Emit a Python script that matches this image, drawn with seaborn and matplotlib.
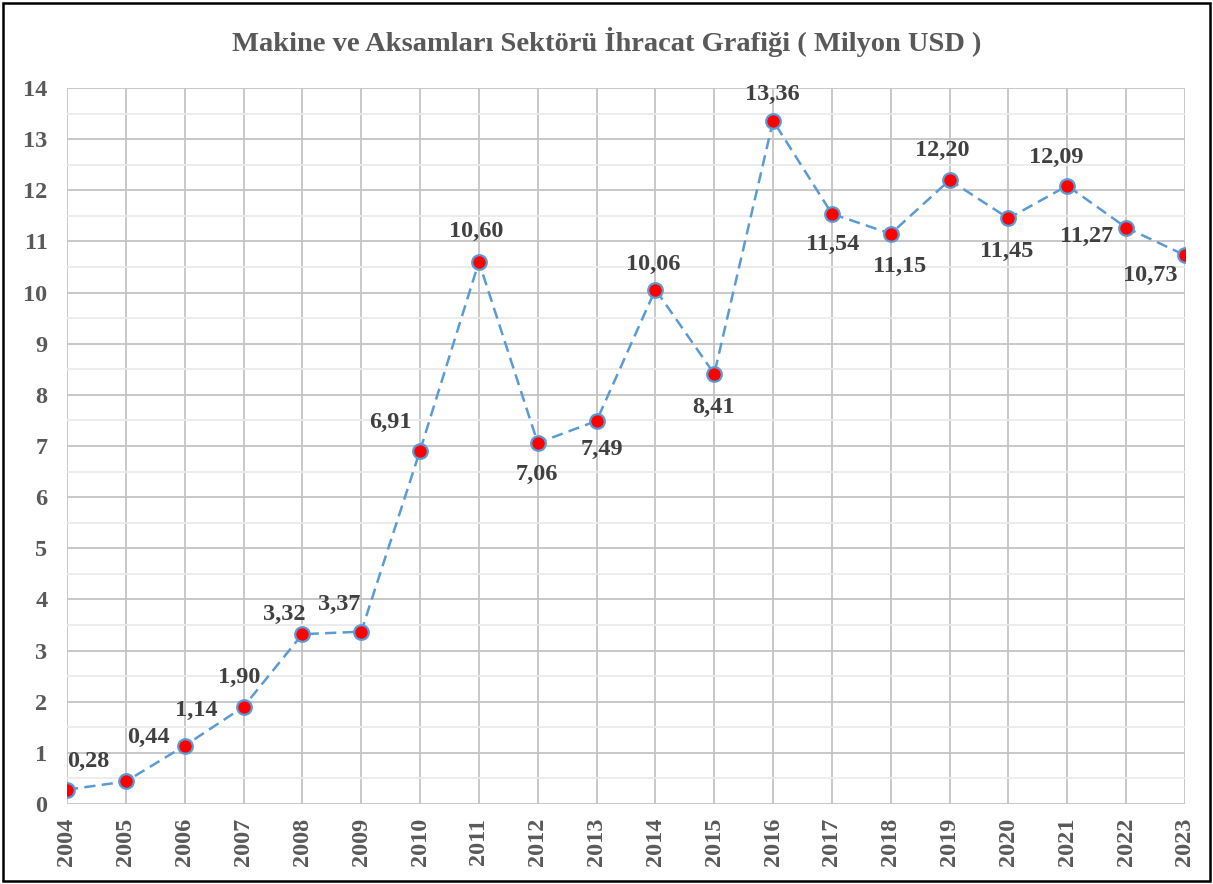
import matplotlib
matplotlib.use("Agg")
import matplotlib.pyplot as plt
import seaborn as sns
import pandas as pd
from matplotlib.patches import Rectangle
from matplotlib.ticker import MultipleLocator

years = list(range(2004, 2024))
values = [0.28, 0.44, 1.14, 1.90, 3.32, 3.37, 6.91, 10.60, 7.06, 7.49,
          10.06, 8.41, 13.36, 11.54, 11.15, 12.20, 11.45, 12.09, 11.27, 10.73]
title = "Makine ve Aksamları Sektörü İhracat Grafiği ( Milyon USD )"

# label offsets in pixels (dx, dy) relative to each point
label_offsets = [(21, 28), (23, 44), (12, 35), (-4, 29), (-18, 20), (-22, 27),
                 (-30, 28), (-3, 30), (-1, -32), (5, -29), (-2, 25), (-1, -34),
                 (-1, 26), (1, -31), (9, -33), (-7, 30), (-2, -33), (-11, 28),
                 (-40, -9), (-35, -20)]

sns.set_style("white")
plt.rcParams['font.family'] = ['Liberation Serif', 'DejaVu Serif']

df = pd.DataFrame({"Yıl": years, "Değer": values})

fig = plt.figure(figsize=(12.13, 8.84), dpi=100)
ax = fig.add_axes([67/1213, 1-804/884, (1185-67)/1213, (804-88)/884])

line_blue = "#5B9BD5"
sns.lineplot(data=df, x="Yıl", y="Değer", ax=ax, color=line_blue,
             linewidth=1.8, linestyle=(0, (4.5, 2.5)), marker="o",
             markersize=10.5, markerfacecolor="#FF0000",
             markeredgecolor=line_blue, markeredgewidth=1.6, zorder=3)

for x, y, (dx, dy) in zip(years, values, label_offsets):
    ax.annotate(f"{y:.2f}".replace(".", ","), (x, y), xytext=(dx, dy),
                textcoords="offset pixels", ha="center", va="center",
                fontsize=17.5, fontweight="bold", color="#404040", zorder=4)

ax.set_xlim(2004, 2023)
ax.set_ylim(0, 14)
ax.set_xticks(years)
ax.set_xticklabels([str(y) for y in years], rotation=90)
ax.yaxis.set_major_locator(MultipleLocator(1))
ax.yaxis.set_minor_locator(MultipleLocator(0.5))
ax.grid(which="major", axis="both", color="#C4C4C4", linewidth=1.3)
ax.grid(which="minor", axis="y", color="#EBEBEB", linewidth=1.3)
ax.set_axisbelow(True)
for s in ax.spines.values():
    s.set_visible(False)
ax.tick_params(axis="both", which="both", length=0)
ax.tick_params(axis="y", pad=14)
ax.tick_params(axis="x", pad=10)
for lab in ax.get_xticklabels() + ax.get_yticklabels():
    lab.set_fontsize(17.5)
    lab.set_fontweight("bold")
    lab.set_color("#595959")
ax.set_xlabel("")
ax.set_ylabel("")

fig.text(0.5, 1-42/884, title, ha="center", va="center", fontsize=20.5,
         fontweight="bold", color="#595959")

fig.patches.append(Rectangle((3/1213, 3/884), 1-6/1213, 1-6/884,
                             transform=fig.transFigure, fill=False,
                             edgecolor="black", linewidth=1.8))

fig.savefig("out.png", dpi=100)
